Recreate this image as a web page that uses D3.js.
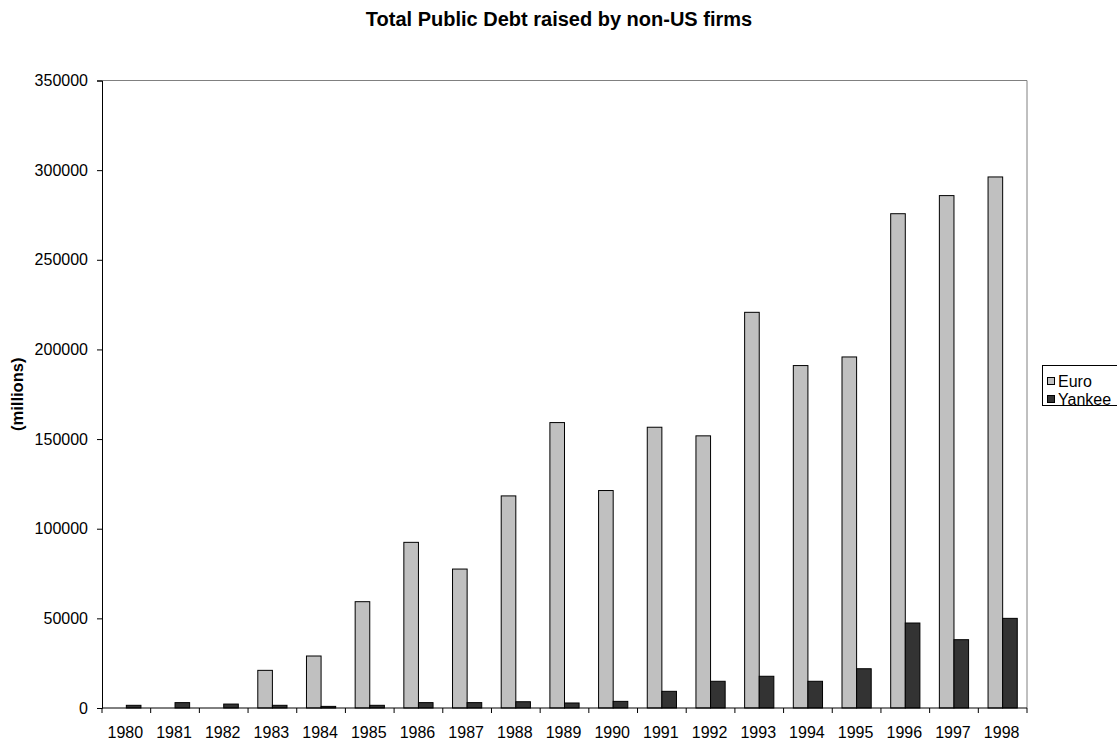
<!DOCTYPE html>
<html>
<head>
<meta charset="utf-8">
<script src="https://cdn.jsdelivr.net/npm/d3@7"></script>
<style>
  html, body { margin: 0; padding: 0; background: #fff; }
  svg { display: block; font-family: "Liberation Sans", Arial, sans-serif; }
</style>
</head>
<body>
<svg id="chart" width="1117" height="742"></svg>
<script>
// Public debt raised by non-US firms, in millions of dollars
const years = ["1980","1981","1982","1983","1984","1985","1986","1987","1988","1989",
               "1990","1991","1992","1993","1994","1995","1996","1997","1998"];
const euro = [0, 0, 0, 21000, 29000, 59300, 92400, 77500, 118300, 159200,
              121300, 156600, 151800, 220700, 191000, 195800, 275700, 285800, 296200];
const yankee = [1500, 3000, 2200, 1500, 900, 1500, 3000, 3000, 3500, 2800,
                3700, 9300, 14900, 17700, 14900, 21900, 47400, 38100, 50000];
const seriesNames = ["Euro", "Yankee"];
const yTicks = [0, 50000, 100000, 150000, 200000, 250000, 300000, 350000];

const colors = { Euro: "#C0C0C0", Yankee: "#333333" };
const FONT = "\"Liberation Sans\", Arial, sans-serif";

const svg = d3.select("#chart");
const plot = { left: 102, right: 1027, top: 80.5, bottom: 708 };

const x = d3.scaleBand().domain(years).range([plot.left, plot.right]).padding(0);
const bw = x.bandwidth();
const xSub = d3.scaleBand().domain(seriesNames).range([0.2 * bw, 0.8 * bw]).padding(0);
const y = d3.scaleLinear().domain([0, 350000]).range([plot.bottom, plot.top]);

// plot area frame (top and right edges in grey)
svg.append("path")
  .attr("d", `M${plot.left},${plot.top}H${plot.right}V${plot.bottom}`)
  .attr("fill", "none").attr("stroke", "#808080").attr("stroke-width", 1);

// bars
const rows = years.map((yr, i) => ({ year: yr, Euro: euro[i], Yankee: yankee[i] }));
const groups = svg.append("g").selectAll("g").data(rows).join("g")
  .attr("transform", d => `translate(${x(d.year)},0)`);
groups.selectAll("rect")
  .data(d => seriesNames.map(s => ({ s, v: d[s] })).filter(e => e.v > 0))
  .join("rect")
  .attr("x", e => xSub(e.s))
  .attr("width", xSub.bandwidth())
  .attr("y", e => y(e.v))
  .attr("height", e => y(0) - y(e.v))
  .attr("fill", e => colors[e.s])
  .attr("stroke", "#000").attr("stroke-width", 1);

// y axis
const yAxis = svg.append("g")
  .attr("transform", `translate(${plot.left},0)`)
  .call(d3.axisLeft(y).tickValues(yTicks).tickFormat(d3.format("d")).tickSize(5).tickPadding(9));
yAxis.select(".domain").attr("stroke", "#000");
yAxis.selectAll(".tick line").attr("stroke", "#000");
yAxis.selectAll(".tick text").attr("font-size", 16).attr("fill", "#000")
  .attr("font-family", FONT);

// x axis with ticks at category boundaries
const xAxisG = svg.append("g").attr("transform", `translate(0,${plot.bottom})`);
xAxisG.append("line").attr("x1", plot.left).attr("x2", plot.right)
  .attr("stroke", "#000");
const bounds = years.map(yr => x(yr)).concat([plot.right]);
xAxisG.selectAll("line.tk").data(bounds).join("line").attr("class", "tk")
  .attr("x1", d => d).attr("x2", d => d).attr("y1", 0).attr("y2", 5)
  .attr("stroke", "#000");
xAxisG.selectAll("text").data(years).join("text")
  .attr("x", d => x(d) + bw / 2 - 1).attr("y", 29.5)
  .attr("text-anchor", "middle").attr("font-size", 16).attr("fill", "#000")
  .text(d => d);

// title
svg.append("text").attr("x", 559).attr("y", 26)
  .attr("text-anchor", "middle").attr("font-size", 20).attr("font-weight", "bold")
  .text("Total Public Debt raised by non-US firms");

// y axis title
svg.append("text")
  .attr("transform", `translate(23,${(plot.top + plot.bottom) / 2}) rotate(-90)`)
  .attr("text-anchor", "middle").attr("font-size", 16.5).attr("font-weight", "bold")
  .text("(millions)");

// legend
const lg = svg.append("g").attr("transform", "translate(1042,365)");
lg.append("rect").attr("x", 0.5).attr("y", 0.5).attr("width", 100).attr("height", 40)
  .attr("fill", "#fff").attr("stroke", "#000");
seriesNames.forEach((s, i) => {
  const cy = 16 + i * 18;
  lg.append("rect").attr("x", 5.5).attr("y", cy - 3.5).attr("width", 7).attr("height", 7)
    .attr("fill", colors[s]).attr("stroke", "#000");
  lg.append("text").attr("x", 16).attr("y", cy + 6).attr("font-size", 16).text(s);
});
</script>
</body>
</html>
